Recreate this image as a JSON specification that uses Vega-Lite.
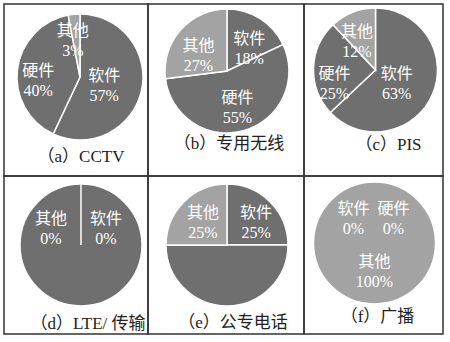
{
  "$schema": "https://vega.github.io/schema/vega-lite/v6.json",
  "padding": {"left": 3, "top": 3, "right": 5, "bottom": 5},
  "background": "white",
  "bounds": "flush",
  "spacing": 0,
  "columns": 3,
  "data": {"values": [
    {"panel": "a", "part": "软件", "k": 1, "pct": 57, "label": "软件\n57%"},
    {"panel": "a", "part": "硬件", "k": 2, "pct": 40, "label": "硬件\n40%"},
    {"panel": "a", "part": "其他", "k": 3, "pct": 3, "label": "其他\n3%"},
    {"panel": "b", "part": "软件", "k": 1, "pct": 18, "label": "软件\n18%"},
    {"panel": "b", "part": "硬件", "k": 2, "pct": 55, "label": "硬件\n55%"},
    {"panel": "b", "part": "其他", "k": 3, "pct": 27, "label": "其他\n27%"},
    {"panel": "c", "part": "软件", "k": 1, "pct": 63, "label": "软件\n63%"},
    {"panel": "c", "part": "硬件", "k": 2, "pct": 25, "label": "硬件\n25%"},
    {"panel": "c", "part": "其他", "k": 3, "pct": 12, "label": "其他\n12%"},
    {"panel": "d", "part": "软件", "k": 1, "pct": 0, "label": "软件\n0%"},
    {"panel": "d", "part": "硬件", "k": 2, "pct": 100, "label": ""},
    {"panel": "d", "part": "其他", "k": 3, "pct": 0, "label": "其他\n0%"},
    {"panel": "e", "part": "软件", "k": 1, "pct": 25, "label": "软件\n25%"},
    {"panel": "e", "part": "硬件", "k": 2, "pct": 50, "label": ""},
    {"panel": "e", "part": "其他", "k": 3, "pct": 25, "label": "其他\n25%"},
    {"panel": "f", "part": "软件", "k": 1, "pct": 0, "label": "软件\n0%"},
    {"panel": "f", "part": "硬件", "k": 2, "pct": 0, "label": "硬件\n0%"},
    {"panel": "f", "part": "其他", "k": 3, "pct": 100, "label": "其他\n100%"}
  ]},
  "concat": [
    {
      "width": 144, "height": 172,
      "view": {"stroke": "#333333", "strokeWidth": 1.5},
      "transform": [{"filter": "datum.panel == 'a'"}],
      "title": {"text": "（a）CCTV", "dx": 5, "offset": -27},
      "encoding": {"theta": {"field": "pct", "type": "quantitative", "stack": true}, "order": {"field": "k", "type": "quantitative"}},
      "layer": [
        {"mark": {"type": "arc", "outerRadius": 63, "xOffset": 4, "yOffset": -13},
         "encoding": {"color": {"field": "part", "type": "nominal", "scale": {"domain": ["软件", "硬件", "其他"], "range": ["#6f6f6f", "#6f6f6f", "#a3a3a3"]}, "legend": null}}},
        {"mark": {"type": "text", "radius": 34, "xOffset": 4, "yOffset": -13, "dx": -9, "dy": -8},
         "encoding": {"text": {"condition": {"test": "datum.part == '软件'", "field": "label"}, "value": ""}}},
        {"mark": {"type": "text", "radius": 34, "xOffset": 4, "yOffset": -13, "dx": -8, "dy": -2},
         "encoding": {"text": {"condition": {"test": "datum.part == '硬件'", "field": "label"}, "value": ""}}},
        {"mark": {"type": "text", "radius": 34, "xOffset": 4, "yOffset": -13, "dx": -4, "dy": -12},
         "encoding": {"text": {"condition": {"test": "datum.part == '其他'", "field": "label"}, "value": ""}}}
      ]
    },
    {
      "width": 156, "height": 172,
      "view": {"stroke": "#333333", "strokeWidth": 1.5},
      "transform": [{"filter": "datum.panel == 'b'"}],
      "title": {"text": "（b）专用无线", "dx": 3, "offset": -40},
      "encoding": {"theta": {"field": "pct", "type": "quantitative", "stack": true}, "order": {"field": "k", "type": "quantitative"}},
      "layer": [
        {"mark": {"type": "arc", "outerRadius": 62, "xOffset": 1, "yOffset": -19},
         "encoding": {"color": {"field": "part", "type": "nominal", "scale": {"domain": ["软件", "硬件", "其他"], "range": ["#6f6f6f", "#6f6f6f", "#a3a3a3"]}, "legend": null}}},
        {"mark": {"type": "text", "radius": 34, "xOffset": 1, "yOffset": -19, "dx": 4, "dy": -3},
         "encoding": {"text": {"condition": {"test": "datum.part == '软件'", "field": "label"}, "value": ""}}},
        {"mark": {"type": "text", "radius": 34, "xOffset": 1, "yOffset": -19, "dx": 1, "dy": -6},
         "encoding": {"text": {"condition": {"test": "datum.part == '硬件'", "field": "label"}, "value": ""}}},
        {"mark": {"type": "text", "radius": 34, "xOffset": 1, "yOffset": -19, "dx": -3, "dy": -3},
         "encoding": {"text": {"condition": {"test": "datum.part == '其他'", "field": "label"}, "value": ""}}}
      ]
    },
    {
      "width": 139, "height": 172,
      "view": {"stroke": "#333333", "strokeWidth": 1.5},
      "transform": [{"filter": "datum.panel == 'c'"}],
      "title": {"text": "（c）PIS", "dx": 15, "offset": -39},
      "encoding": {"theta": {"field": "pct", "type": "quantitative", "stack": true}, "order": {"field": "k", "type": "quantitative"}},
      "layer": [
        {"mark": {"type": "arc", "outerRadius": 62, "xOffset": 2, "yOffset": -20},
         "encoding": {"color": {"field": "part", "type": "nominal", "scale": {"domain": ["软件", "硬件", "其他"], "range": ["#6f6f6f", "#6f6f6f", "#a3a3a3"]}, "legend": null}}},
        {"mark": {"type": "text", "radius": 34, "xOffset": 2, "yOffset": -20, "dx": -10, "dy": -10},
         "encoding": {"text": {"condition": {"test": "datum.part == '软件'", "field": "label"}, "value": ""}}},
        {"mark": {"type": "text", "radius": 34, "xOffset": 2, "yOffset": -20, "dx": -7, "dy": 5},
         "encoding": {"text": {"condition": {"test": "datum.part == '硬件'", "field": "label"}, "value": ""}}},
        {"mark": {"type": "text", "radius": 34, "xOffset": 2, "yOffset": -20, "dx": -6, "dy": -6},
         "encoding": {"text": {"condition": {"test": "datum.part == '其他'", "field": "label"}, "value": ""}}}
      ]
    },
    {
      "width": 144, "height": 158,
      "view": {"stroke": "#333333", "strokeWidth": 1.5},
      "transform": [{"filter": "datum.panel == 'd'"}],
      "title": {"text": "（d）LTE/ 传输", "dx": 12, "offset": -18},
      "encoding": {"theta": {"field": "pct", "type": "quantitative", "stack": true}, "order": {"field": "k", "type": "quantitative"}},
      "layer": [
        {"mark": {"type": "arc", "outerRadius": 61, "xOffset": 5, "yOffset": -10},
         "encoding": {"color": {"field": "part", "type": "nominal", "scale": {"domain": ["软件", "硬件", "其他"], "range": ["#6f6f6f", "#6f6f6f", "#a3a3a3"]}, "legend": null}}},
        {"mark": {"type": "text", "radius": 34, "xOffset": 5, "yOffset": -10, "dx": -30, "dy": 8},
         "encoding": {"text": {"condition": {"test": "datum.part == '其他'", "field": "label"}, "value": ""}}},
        {"mark": {"type": "text", "radius": 34, "xOffset": 5, "yOffset": -10, "dx": 25, "dy": 8},
         "encoding": {"text": {"condition": {"test": "datum.part == '软件'", "field": "label"}, "value": ""}}}
      ]
    },
    {
      "width": 156, "height": 158,
      "view": {"stroke": "#333333", "strokeWidth": 1.5},
      "transform": [{"filter": "datum.panel == 'e'"}],
      "title": {"text": "（e）公专电话", "dx": 7, "offset": -19},
      "encoding": {"theta": {"field": "pct", "type": "quantitative", "stack": true}, "order": {"field": "k", "type": "quantitative"}},
      "layer": [
        {"mark": {"type": "arc", "outerRadius": 61, "xOffset": 1, "yOffset": -10},
         "encoding": {"color": {"field": "part", "type": "nominal", "scale": {"domain": ["软件", "硬件", "其他"], "range": ["#6f6f6f", "#6f6f6f", "#a3a3a3"]}, "legend": null}}},
        {"mark": {"type": "text", "radius": 34, "xOffset": 1, "yOffset": -10, "dx": 5, "dy": -8},
         "encoding": {"text": {"condition": {"test": "datum.part == '软件'", "field": "label"}, "value": ""}}},
        {"mark": {"type": "text", "radius": 34, "xOffset": 1, "yOffset": -10, "dx": 0, "dy": -8},
         "encoding": {"text": {"condition": {"test": "datum.part == '其他'", "field": "label"}, "value": ""}}}
      ]
    },
    {
      "width": 139, "height": 158,
      "view": {"stroke": "#333333", "strokeWidth": 1.5},
      "transform": [{"filter": "datum.panel == 'f'"}],
      "title": {"text": "（f）广播", "dx": 4, "offset": -25},
      "encoding": {"theta": {"field": "pct", "type": "quantitative", "stack": true}, "order": {"field": "k", "type": "quantitative"}},
      "layer": [
        {"mark": {"type": "arc", "outerRadius": 61, "xOffset": 1, "yOffset": -12},
         "encoding": {"color": {"field": "part", "type": "nominal", "scale": {"domain": ["软件", "硬件", "其他"], "range": ["#6f6f6f", "#6f6f6f", "#a3a3a3"]}, "legend": null}}},
        {"mark": {"type": "text", "radius": 34, "xOffset": 1, "yOffset": -12, "dx": 0, "dy": -15},
         "encoding": {"text": {"condition": {"test": "datum.part == '其他'", "field": "label"}, "value": ""}}},
        {"mark": {"type": "text", "radius": 34, "xOffset": 1, "yOffset": -12, "dx": -21, "dy": 0},
         "encoding": {"text": {"condition": {"test": "datum.part == '软件'", "field": "label"}, "value": ""}}},
        {"mark": {"type": "text", "radius": 34, "xOffset": 1, "yOffset": -12, "dx": 19, "dy": 0},
         "encoding": {"text": {"condition": {"test": "datum.part == '硬件'", "field": "label"}, "value": ""}}}
      ]
    }
  ],
  "config": {
    "view": {"stroke": "#333333", "strokeWidth": 1.5},
    "arc": {"stroke": "white", "strokeWidth": 1.5},
    "text": {"color": "white", "font": "Liberation Serif, Noto Sans CJK SC", "fontSize": 16, "lineBreak": "\n", "lineHeight": 20, "align": "center", "baseline": "middle"},
    "title": {"orient": "bottom", "anchor": "middle", "frame": "group", "baseline": "middle", "font": "Liberation Serif, Noto Sans CJK SC", "fontSize": 17, "fontWeight": "normal", "color": "#222222"}
  }
}
